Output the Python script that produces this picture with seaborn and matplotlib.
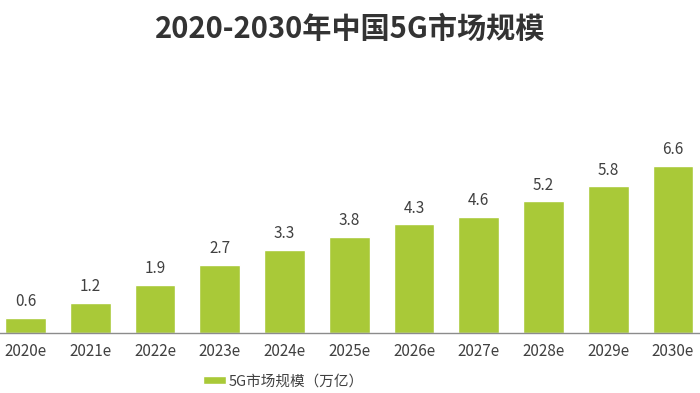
import pandas as pd
import matplotlib.pyplot as plt
import seaborn as sns

years = ['2020e', '2021e', '2022e', '2023e', '2024e', '2025e',
         '2026e', '2027e', '2028e', '2029e', '2030e']
market_size = [0.6, 1.2, 1.9, 2.7, 3.3, 3.8, 4.3, 4.6, 5.2, 5.8, 6.6]
series_name = '5G市场规模（万亿）'

sns.set_style('white')
plt.rcParams['font.family'] = ['Noto Sans CJK SC', 'DejaVu Sans']

df = pd.DataFrame({'year': years, 'size': market_size})

fig = plt.figure(figsize=(7, 3.93), dpi=100)
ax = fig.add_axes([0, 0.1527, 1, 0.4828])
sns.barplot(data=df, x='year', y='size', color='#a9c938', width=0.63,
            saturation=1, ax=ax, label=series_name)

for i, v in enumerate(market_size):
    ax.text(i, v + 0.3, f'{v:.1f}', ha='center', va='bottom',
            fontsize=11, color='#404040')

ax.set_xlim(-0.394, 10.417)
ax.set_ylim(0, 7.5)
ax.set_xlabel('')
ax.set_ylabel('')
ax.set_yticks([])
ax.tick_params(axis='x', length=0, pad=7, labelsize=11, labelcolor='#404040')
for s in ['top', 'left', 'right']:
    ax.spines[s].set_visible(False)
ax.spines['bottom'].set_color('#8c8c8c')
ax.spines['bottom'].set_linewidth(1)

fig.suptitle('2020-2030年中国5G市场规模', y=0.965, fontsize=21,
             fontweight='bold', color='#333333')

ax.legend(loc='center', bbox_to_anchor=(0.405, -0.255), frameon=False,
          fontsize=10.5, handlelength=1.6, handleheight=0.45,
          handletextpad=0.2, labelcolor='#404040')

fig.savefig('out.png', dpi=100)
